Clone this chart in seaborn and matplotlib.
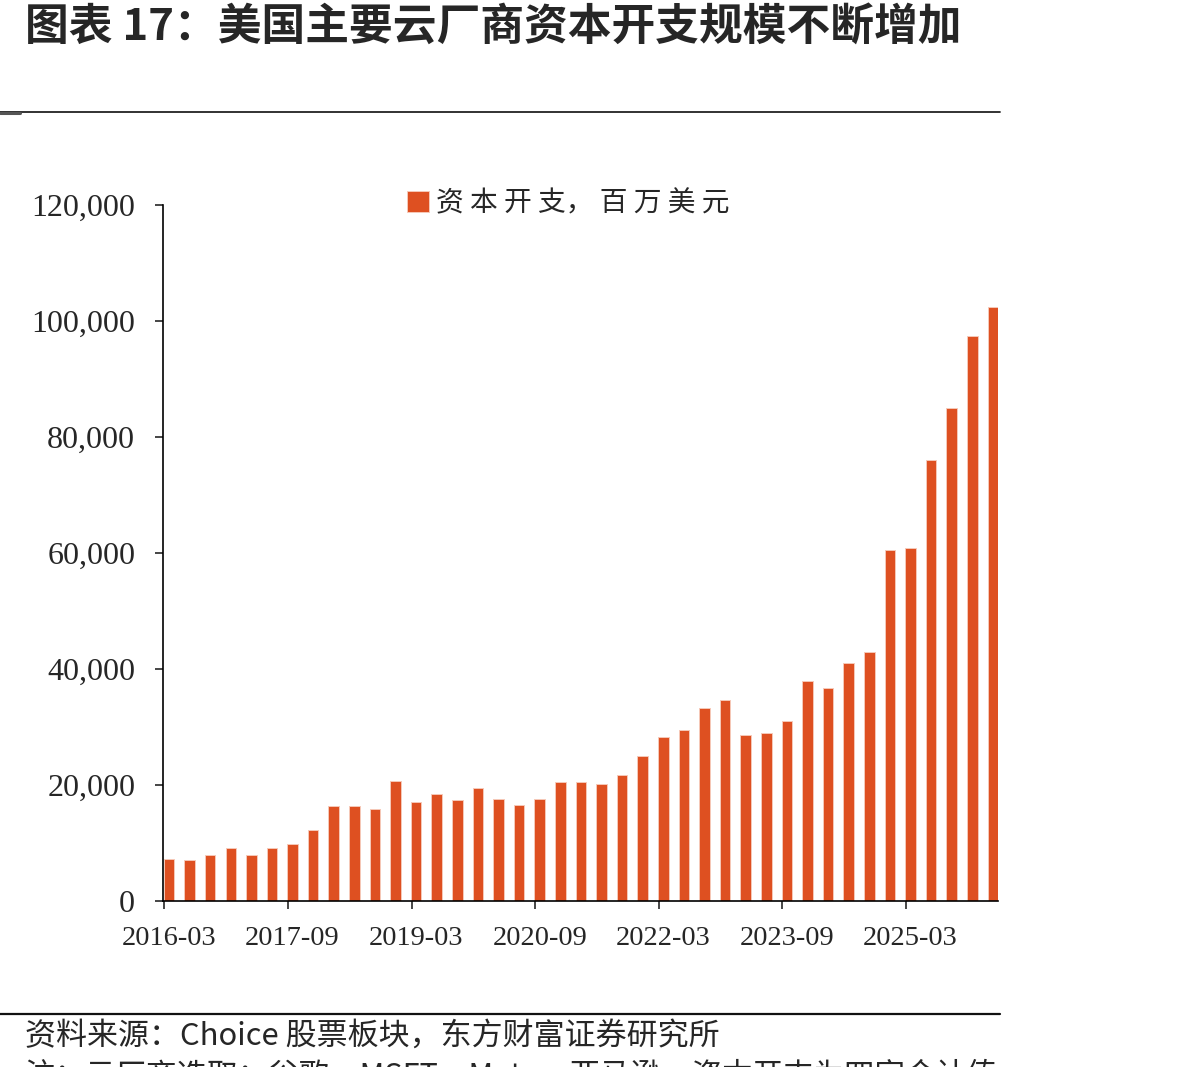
import pandas as pd
import matplotlib
matplotlib.use('Agg')
import matplotlib.pyplot as plt
from matplotlib.lines import Line2D
from matplotlib.patches import Patch
from matplotlib.ticker import FuncFormatter, FixedLocator
import seaborn as sns

# quarterly capex of the major US cloud vendors, USD mn
quarters = [f'{y}-{m:02d}' for y in range(2016, 2027) for m in (3, 6, 9, 12)][:41]
capex = [7300, 7000, 8000, 9100, 8000, 9100, 9900, 12300, 16300, 16300,
         15900, 20700, 17100, 18400, 17400, 19500, 17600, 16500, 17600, 20500,
         20500, 20200, 21700, 25000, 28300, 29500, 33200, 34700, 28700, 28900,
         31100, 38000, 36800, 41100, 43000, 60500, 60900, 76000, 85000, 97500,
         102400]
series_name = '资 本 开 支， 百 万 美 元'
title = '图表 17：美国主要云厂商资本开支规模不断增加'
source = '资料来源：Choice 股票板块，东方财富证券研究所'
note = '注：云厂商选取：谷歌、MSFT、Meta、亚马逊，资本开支为四家合计值'

BAR = '#DE5021'
CJK = ['Noto Sans CJK SC', 'DejaVu Sans']
SERIF = ['Liberation Serif', 'DejaVu Serif']


def main():
    sns.set_style('white')
    plt.rcParams['font.family'] = CJK

    df = pd.DataFrame({'quarter': quarters, 'capex': capex})

    fig = plt.figure(figsize=(11.92, 10.67), dpi=100)
    ax = fig.add_axes([163 / 1192, 1 - 901 / 1067, 835 / 1192, 696 / 1067])

    sns.barplot(data=df, x='quarter', y='capex', color=BAR, saturation=1,
                width=0.51, edgecolor='#F6C9B8', linewidth=0.7, ax=ax)

    format_axes(ax)
    add_legend(ax)
    add_page_text(fig)

    fig.savefig('out.png', dpi=100)
    plt.close(fig)


def format_axes(ax):
    ax.set_xlim(-0.29, 40.25)
    ax.set_ylim(0, 120000)
    ax.set_xlabel('')
    ax.set_ylabel('')

    for side in ['top', 'right']:
        ax.spines[side].set_visible(False)
    for side in ['left', 'bottom']:
        ax.spines[side].set_color('black')
        ax.spines[side].set_linewidth(1.2)

    ax.set_yticks(range(0, 120001, 20000))
    ax.yaxis.set_major_formatter(FuncFormatter(lambda v, _: f'{int(v):,}'))
    ax.tick_params(axis='y', direction='out', length=6, width=1.2,
                   pad=14, labelsize=23, left=True)

    label_idx = list(range(0, len(quarters), 6))
    ax.set_xticks(label_idx)
    ax.set_xticklabels([quarters[i] for i in label_idx])
    ax.xaxis.set_minor_locator(FixedLocator([i - 0.22 for i in label_idx]))
    ax.tick_params(axis='x', which='major', length=0, pad=18, labelsize=20.5)
    ax.tick_params(axis='x', which='minor', direction='out', length=6,
                   width=1.2, bottom=True)

    for lab in ax.get_xticklabels() + ax.get_yticklabels():
        lab.set_family(SERIF)


def add_legend(ax):
    handle = Patch(facecolor=BAR, edgecolor='#F6C9B8', linewidth=0.7)
    ax.legend([handle], [series_name], loc='center',
              bbox_to_anchor=(0.485, 1.003), frameon=False, fontsize=20,
              handlelength=0.8, handleheight=0.8, handletextpad=0.25,
              borderaxespad=0)


def add_page_text(fig):
    fig.text(25 / 1192, 1 - 28 / 1067, title, fontsize=31.5,
             fontweight='bold', va='center', ha='left')
    fig.add_artist(Line2D([0, 1000 / 1192], [1 - 112 / 1067] * 2,
                          color='#222222', lw=1.3))
    fig.add_artist(Line2D([0, 20 / 1192], [1 - 113 / 1067] * 2,
                          color='#555555', lw=2.2))
    fig.add_artist(Line2D([0, 1000 / 1192], [1 - 1014 / 1067] * 2,
                          color='#111111', lw=1.6))
    fig.text(25 / 1192, 1 - 1036 / 1067, source, fontsize=22.3,
             va='center', ha='left')
    fig.text(25 / 1192, 1 - 1076 / 1067, note, fontsize=22,
             va='center', ha='left')


if __name__ == '__main__':
    main()
